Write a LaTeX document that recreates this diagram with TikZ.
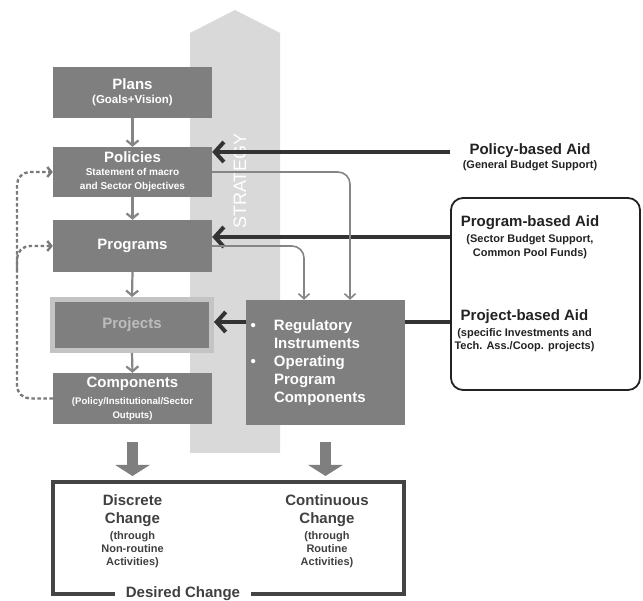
\documentclass[tikz,border=0pt]{standalone}
\usepackage{fontspec}
\setmainfont{Liberation Sans}
\usetikzlibrary{arrows.meta,calc}
\definecolor{boxgrey}{HTML}{7F7F7F}
\definecolor{stratgrey}{HTML}{D9D9D9}
\definecolor{darkline}{HTML}{333333}
\definecolor{connline}{HTML}{858585}
\definecolor{dashgrey}{HTML}{7A7A7A}
\definecolor{projring}{HTML}{C4C4C4}
\definecolor{projtxt}{HTML}{BDBDBD}
\definecolor{framegrey}{HTML}{444444}
\definecolor{txtdark}{HTML}{222222}
\definecolor{txtgrey}{HTML}{404040}
\begin{document}
\begin{tikzpicture}[x=1pt,y=-1pt,
  box/.style={fill=boxgrey,text=white,inner sep=0pt,align=center,minimum width=159pt,font=\fontsize{15}{14}\selectfont\bfseries},
  thickarrow/.style={draw=darkline,line width=4pt,-{Straight Barb[length=9pt,width=20pt]}},
  thinarrow/.style={draw=connline,line width=1.6pt,rounded corners=12pt,-{Straight Barb[length=5pt,width=11pt]}},
  downarrow/.style={draw=connline,line width=2.2pt,-{Straight Barb[length=5pt,width=12pt]}},
  dasharrow/.style={draw=dashgrey,line width=2.4pt,dash pattern=on 3.5pt off 2.5pt,rounded corners=13pt,-{Straight Barb[length=4pt,width=10pt]}},
  blockarrow/.style={draw=boxgrey,line width=11.5pt,-{Triangle[length=11pt,width=34pt]}},
  aidtitle/.style={text=txtdark,font=\fontsize{15}{18}\selectfont\bfseries,inner sep=0pt},
  aidsub/.style={text=txtdark,font=\fontsize{11}{13.5}\selectfont\bfseries,inner sep=0pt,align=center},
  changetxt/.style={text=txtgrey,align=center,inner sep=0pt,font=\fontsize{15}{13}\selectfont\bfseries},
]
\useasboundingbox (0,0) rectangle (643,601);
% strategy arrow
\fill[stratgrey] (190,33) -- (235,10) -- (280,33) -- (280,453) -- (190,453) -- cycle;
\node[rotate=90,text=white,font=\fontsize{18}{18}\selectfont,inner sep=0pt] (strat) at (240,181) {STRATEGY};

% left column boxes
\node[box,minimum height=51pt] (plans) at (132.5,92.5) {Plans\\{\fontsize{11.5}{13}\selectfont (Goals+Vision)}};
\node[box,minimum height=50pt] (policies) at (132.5,172) {\raisebox{-1pt}{Policies}\\{\fontsize{10}{12}\selectfont Statement of macro}\\{\fontsize{10}{12}\selectfont and Sector Objectives}};
\node[box,minimum height=52pt] (programs) at (132.5,246) {Programs};
\node[box,draw=projring,line width=5pt,minimum height=51pt,text=projtxt] (projects) at (132,325) {Projects};
\node[box,minimum height=51pt] (components) at (132.5,398.5) {Components\\[3pt]{\fontsize{9.6}{12}\selectfont (Policy/Institutional/Sector}\\{\fontsize{9.6}{12}\selectfont Outputs)}};

% regulatory box
\node[box,minimum height=125pt,text width=150pt,inner xsep=4.5pt,align=left,font=\fontsize{15}{18}\selectfont\bfseries] (regbox) at (325.5,362.5)
  {\makebox[23.5pt][l]{•}Regulatory\\\makebox[23.5pt]{}Instruments\\\makebox[23.5pt][l]{•}Operating\\\makebox[23.5pt]{}Program\\\makebox[23.5pt]{}Components};

% aid box and labels
\node[draw=txtdark,line width=1.8pt,rounded corners=12pt,minimum width=189pt,minimum height=192pt,inner sep=0pt] (aidbox) at (545.5,294) {};
\node[aidtitle] (polaid) at (530,151) {Policy-based Aid};
\node[aidsub] (polaidsub) at (530,166) {(General Budget Support)};
\node[aidtitle] (progaid) at (530,223) {Program-based Aid};
\node[aidsub] (progaidsub) at (530,246.5) {(Sector Budget Support,\\Common Pool Funds)};
\node[aidtitle] (projaid) at (524.5,317) {Project-based Aid};
\node[aidsub] (projaidsub) at (524.5,340) {(specific Investments and\\Tech. Ass./Coop. projects)};

% thick aid arrows
\coordinate (polsrc) at (450,152);
\coordinate (progsrc) at (450,237);
\coordinate (projsrc) at (450,322);
\draw[thickarrow] (polsrc) -- (policies.east |- polsrc);
\draw[thickarrow] (progsrc) -- (programs.east |- progsrc);
\draw[draw=darkline,line width=4pt] (projsrc) -- (regbox.east |- projsrc);
\draw[thickarrow] (regbox.west |- projsrc) -- (projects.east |- projsrc);

% thin connectors to regulatory box
\coordinate (polturn) at (350,172);
\coordinate (progturn) at (304,246);
\draw[thinarrow] (policies.east) -- (polturn) -- (regbox.north -| polturn);
\draw[thinarrow] (programs.east) -- (progturn) -- (regbox.north -| progturn);

% vertical arrows
\draw[downarrow] (plans.south) -- (policies.north);
\draw[downarrow] (policies.south) -- (programs.north);
\draw[downarrow] (programs.south) -- (projects.north);
\draw[downarrow] (projects.south) -- (components.north);

% dashed feedback
\coordinate (dashx) at (17,0);
\coordinate (branch) at (17,270);
\draw[dasharrow] (components.west) -- (components.west -| dashx) -- (policies.west -| dashx) -- (policies.west);
\draw[dasharrow] (branch) -- (programs.west -| dashx) -- (programs.west);

% desired change box
\node[draw=framegrey,line width=4pt,minimum width=351pt,minimum height=112pt,inner sep=0pt] (changebox) at (228.5,538) {};
\node[fill=white,text=txtgrey,inner xsep=11pt,inner ysep=1pt,font=\fontsize{15}{18}\selectfont\bfseries] (desired) at (183,594) {Desired Change};
\node[changetxt] (discrete) at (132.5,531.5) {Discrete\\[5pt]Change\\[2.6pt]{\fontsize{11}{13}\selectfont (through}\\{\fontsize{11}{13}\selectfont Non-routine}\\{\fontsize{11}{13}\selectfont Activities)}};
\node[changetxt] (continuous) at (327,531.5) {Continuous\\[5pt]Change\\[2.6pt]{\fontsize{11}{13}\selectfont (through}\\{\fontsize{11}{13}\selectfont Routine}\\{\fontsize{11}{13}\selectfont Activities)}};

% block arrows
\draw[blockarrow] ($(components.south)+(0,18)$) -- ($(changebox.north -| components.south)+(0,-4)$);
\draw[blockarrow] ($(regbox.south)+(0,17)$) -- ($(changebox.north -| regbox.south)+(0,-4)$);
\end{tikzpicture}
\end{document}
